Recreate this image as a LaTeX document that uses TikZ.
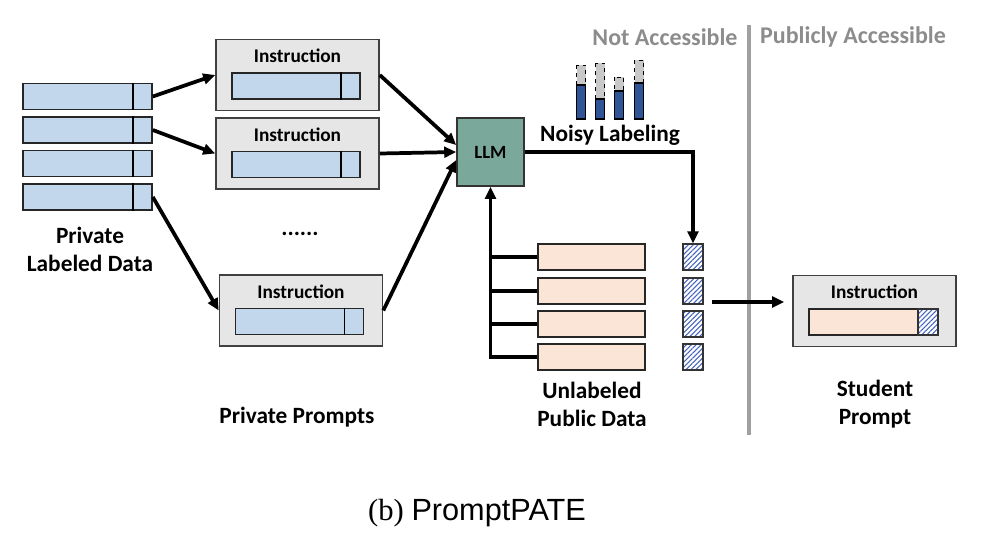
\documentclass[tikz,border=0pt]{standalone}
\usepackage{fontspec}
\setmainfont{Carlito}
\newfontfamily\capserif{Liberation Serif}
\newfontfamily\capsans{Liberation Sans}
\usetikzlibrary{arrows.meta,patterns.meta}

\definecolor{dataBlue}{RGB}{194,214,236}
\definecolor{boxGray}{RGB}{230,230,230}
\definecolor{llmGreen}{RGB}{122,168,155}
\definecolor{peach}{RGB}{251,229,214}
\definecolor{darkBlue}{RGB}{47,85,151}
\definecolor{greyBar}{RGB}{200,200,200}
\definecolor{textGray}{RGB}{140,140,140}
\definecolor{lineGray}{RGB}{160,160,160}
\definecolor{hatchBlue}{RGB}{70,100,190}

\newcommand{\biglabel}{\fontsize{17.5}{21}\selectfont\bfseries}
\newcommand{\instrfont}{\fontsize{14.5}{17}\selectfont\bfseries}

\begin{document}
\begin{tikzpicture}[x=0.75pt, y=-0.75pt,
  databar/.style={draw=black!85, line width=1.2pt, fill=dataBlue,
    minimum height=26*0.75pt, inner sep=0pt},
  prompt/.style={draw=black!75, line width=1.2pt, fill=boxGray,
    minimum width=163*0.75pt, minimum height=71*0.75pt, inner sep=0pt},
  hatchbox/.style={draw=black!80, line width=1pt, preaction={fill=white},
    pattern={Lines[angle=45,distance=2.6pt,line width=0.8pt]},
    pattern color=hatchBlue, minimum width=20*0.75pt,
    minimum height=26*0.75pt, inner sep=0pt},
  flow/.style={line width=2.8pt, -{Triangle[length=9pt,width=8pt]}}]
  \useasboundingbox (0,0) rectangle (982,536);

  % Parameters
  \def\pw{0.75pt}

  % Private labeled data
  \foreach \y [count=\i] in {96.5,130,163.5,197}{
    \node[databar, minimum width=129*\pw] (pd\i) at (87.5,\y) {};
    \draw[line width=1.2pt] ([xshift=-20*\pw]pd\i.north east) -- ([xshift=-20*\pw]pd\i.south east);
  }
  \node[font=\biglabel, align=center] (pld) at (90,249) {Private\\Labeled Data};

  % Private prompts
  \foreach \x/\y [count=\i] in {297.5/75, 297.5/153.5, 301/310.5}{
    \node[prompt] (ib\i) at (\x,\y) {};
    \node[font=\instrfont] (it\i) at (\x,\y-19) {Instruction};
    \node[databar, minimum width=128*\pw] (ibar\i) at (\x-1.5,\y+11) {};
    \draw[line width=1.2pt] ([xshift=-20*\pw]ibar\i.north east) -- ([xshift=-20*\pw]ibar\i.south east);
  }
  \node[font=\biglabel] (dots) at (300,234) {......};
  \node[font=\biglabel] (pp) at (297,417) {Private Prompts};

  % LLM
  \node[draw=black!80, line width=1.2pt, fill=llmGreen, minimum width=67*\pw,
    minimum height=68*\pw, font=\fontsize{14}{16}\selectfont\bfseries] (llm) at (490.5,152) {LLM};

  \draw[flow] (pd1.east) -- (ib1.west);
  \draw[flow] (pd2.east) -- (ib2.west);
  \draw[flow] (pd4.east) -- (ib3.west);
  \draw[flow] (ib1.east) -- ([yshift=7*\pw]llm.west);
  \draw[flow] (ib2.east) -- (llm.west);
  \draw[flow] (ib3.east) -- ([yshift=-8*\pw]llm.west);

  % Noisy labeling
  \foreach \x/\t/\m in {581/65/85, 600/63/99, 619/77/91, 639/60/83}{
    \draw[dashed, line width=0.7pt, fill=greyBar] (\x-4.5,\t) rectangle (\x+4.5,\m);
    \draw[line width=1pt, fill=darkBlue] (\x-4.5,\m) rectangle (\x+4.5,119);
  }
  \node[font=\biglabel] (nl) at (610,135) {Noisy Labeling};

  % Unlabeled public data
  \foreach \y [count=\i] in {257,291,324,357}{
    \node[databar, fill=peach, minimum width=107*\pw] (ub\i) at (591.5,\y) {};
    \node[hatchbox] (hb\i) at (693,\y) {};
  }
  \node[font=\biglabel, align=center] (upd) at (592,404) {Unlabeled\\Public Data};

  \draw[flow] (llm.east) -| (hb1.north);
  \draw[flow] (ub4.west) -| (llm.south);
  \foreach \i in {1,2,3}
    \draw[line width=2.8pt] (ub\i.west) -- (ub\i.west -| llm.south);

  % Border between the two sides
  \draw[line width=2.4pt, lineGray] (749,25) -- (749,435);
  \node[font=\fontsize{18}{21}\selectfont\bfseries, text=textGray] (na) at (665,37) {Not Accessible};
  \node[font=\fontsize{18}{21}\selectfont\bfseries, text=textGray] (pa) at (853,37) {Publicly Accessible};

  % Student prompt
  \node[prompt] (sb) at (874.5,311) {};
  \node[font=\instrfont] (st) at (874.5,292) {Instruction};
  \node[databar, fill=peach, minimum width=129*\pw] (sbar) at (873.5,322) {};
  \node[hatchbox] (shb) at (928,322) {};
  \node[font=\biglabel, align=center] (spr) at (875,404) {Student\\Prompt};

  \coordinate (hout) at (712,302);
  \draw[flow, shorten >=6pt] (hout) -- (hout -| sb.west);

  % Caption
  \node[font=\fontsize{23}{26}\selectfont] (cap) at (477,513) {\capserif (b) \capsans PromptPATE};

\end{tikzpicture}
\end{document}
